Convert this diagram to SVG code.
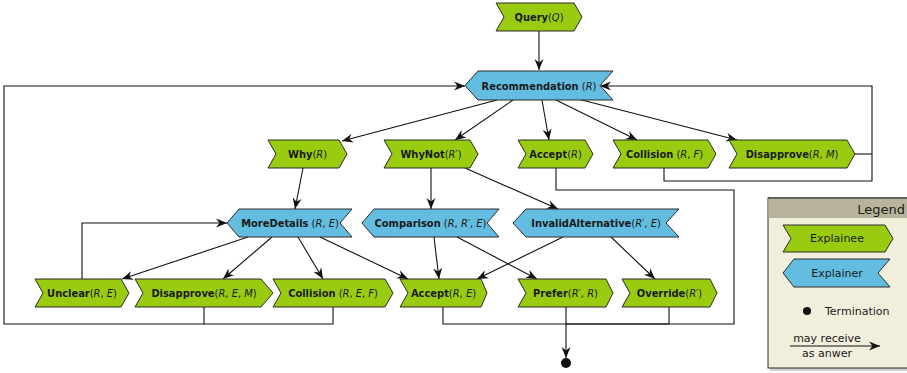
<svg xmlns="http://www.w3.org/2000/svg" width="907" height="373" viewBox="0 0 907 373">
<defs>
<marker id="ah" markerUnits="userSpaceOnUse" markerWidth="12" markerHeight="10" refX="11" refY="5" orient="auto">
<path d="M0,0.5 L11,5 L0,9.5 L3.5,5 Z" fill="#111"/>
</marker>
<style>
.ee{fill:#99cc11;stroke:#2a2a2a;stroke-width:1}
.er{fill:#62bde0;stroke:#2a2a2a;stroke-width:1}
.c{fill:none;stroke:#111;stroke-width:1.1}
.a{marker-end:url(#ah)}
text{font-family:"DejaVu Sans Condensed","DejaVu Sans",sans-serif;font-stretch:condensed;font-size:11px;fill:#1a1a1a;text-anchor:middle}
.b{font-weight:bold}
.i{font-style:italic}
.lg{font-family:"DejaVu Sans",sans-serif;font-stretch:normal}
</style>
</defs>

<g id="connectors">
<path class="c a" d="M539,31 L539,70"/>
<path class="c a" d="M497,100 L342,141"/>
<path class="c a" d="M513,100 L455,140"/>
<path class="c a" d="M542,100 L549,140"/>
<path class="c a" d="M556,100 L637,140"/>
<path class="c a" d="M578,99 L737,140"/>
<path class="c a" d="M303,168 L295,209"/>
<path class="c a" d="M431,168 L431,209"/>
<path class="c a" d="M465,168 L558,209"/>
<path class="c" d="M556,168 L556,190 L734,190 L734,324 L566,324"/>
<path class="c a" d="M664,168 L664,181 L872,181 L872,86 L600,86"/>
<path class="c" d="M855,154 L872,154"/>
<path class="c a" d="M248,237 L122,279"/>
<path class="c a" d="M272,237 L223,279"/>
<path class="c a" d="M298,237 L323,279"/>
<path class="c a" d="M320,237 L408,279"/>
<path class="c a" d="M434,237 L439,279"/>
<path class="c a" d="M457,237 L537,279"/>
<path class="c a" d="M563,237 L477,279"/>
<path class="c a" d="M611,237 L655,279"/>
<path class="c a" d="M82,279 L82,223 L227,223"/>
<path class="c a" d="M204,307 L204,324 L4,324 L4,86 L465,86"/>
<path class="c" d="M333,307 L333,324 L204,324"/>
<path class="c" d="M443,307 L443,324 L669,324"/>
<path class="c" d="M669,307 L669,324"/>
<path class="c a" d="M566,307 L566,358"/>
</g>

<g id="termination"><circle cx="566" cy="363" r="5" fill="#111"/></g>

<g id="query">
<path class="ee" d="M496,3 L574,3 L582,17 L574,31 L496,31 L504,17 Z"/>
<text x="539" y="21"><tspan class="b">Query</tspan>(<tspan class="i">Q</tspan>)</text>
</g>
<g id="recommendation">
<path class="er" d="M478,71 L613,71 L600,85.5 L613,100 L478,100 L465,85.5 Z"/>
<text x="539" y="90"><tspan class="b">Recommendation</tspan> (<tspan class="i">R</tspan>)</text>
</g>

<g id="why">
<path class="ee" d="M268,140 L339,140 L347,154 L339,168 L268,168 L276,154 Z"/>
<text x="307.5" y="158"><tspan class="b">Why</tspan>(<tspan class="i">R</tspan>)</text>
</g>
<g id="whynot">
<path class="ee" d="M384,140 L470,140 L478,154 L470,168 L384,168 L392,154 Z"/>
<text x="431" y="158"><tspan class="b">WhyNot</tspan>(<tspan class="i">R′</tspan>)</text>
</g>
<g id="accept-r">
<path class="ee" d="M518,140 L585,140 L593,154 L585,168 L518,168 L526,154 Z"/>
<text x="555.5" y="158"><tspan class="b">Accept</tspan>(<tspan class="i">R</tspan>)</text>
</g>
<g id="collision-rf">
<path class="ee" d="M613,140 L708,140 L716,154 L708,168 L613,168 L621,154 Z"/>
<text x="664.5" y="158"><tspan class="b">Collision</tspan> (<tspan class="i">R</tspan>, <tspan class="i">F</tspan>)</text>
</g>
<g id="disapprove-rm">
<path class="ee" d="M729,140 L847,140 L855,154 L847,168 L729,168 L737,154 Z"/>
<text x="792" y="158"><tspan class="b">Disapprove</tspan>(<tspan class="i">R</tspan>, <tspan class="i">M</tspan>)</text>
</g>

<g id="moredetails">
<path class="er" d="M239,209 L352,209 L340,223 L352,237 L239,237 L227,223 Z"/>
<text x="290" y="227"><tspan class="b">MoreDetails</tspan> (<tspan class="i">R</tspan>, <tspan class="i">E</tspan>)</text>
</g>
<g id="comparison">
<path class="er" d="M374,209 L499,209 L487,223 L499,237 L374,237 L362,223 Z"/>
<text x="430.5" y="227"><tspan class="b">Comparison</tspan> (<tspan class="i">R</tspan>, <tspan class="i">R′</tspan>, <tspan class="i">E</tspan>)</text>
</g>
<g id="invalidalternative">
<path class="er" d="M526,209 L679,209 L666,223 L679,237 L526,237 L513,223 Z"/>
<text x="596" y="227"><tspan class="b">InvalidAlternative</tspan>(<tspan class="i">R′</tspan>, <tspan class="i">E</tspan>)</text>
</g>

<g id="unclear">
<path class="ee" d="M35,279 L121,279 L129,293 L121,307 L35,307 L43,293 Z"/>
<text x="82" y="297"><tspan class="b">Unclear</tspan>(<tspan class="i">R</tspan>, <tspan class="i">E</tspan>)</text>
</g>
<g id="disapprove-rem">
<path class="ee" d="M135,279 L261,279 L273,293 L261,307 L135,307 L143,293 Z"/>
<text x="204" y="297"><tspan class="b">Disapprove</tspan>(<tspan class="i">R</tspan>, <tspan class="i">E</tspan>, <tspan class="i">M</tspan>)</text>
</g>
<g id="collision-ref">
<path class="ee" d="M273,279 L385,279 L393,293 L385,307 L273,307 L281,293 Z"/>
<text x="333" y="297"><tspan class="b">Collision</tspan> (<tspan class="i">R</tspan>, <tspan class="i">E</tspan>, <tspan class="i">F</tspan>)</text>
</g>
<g id="accept-re">
<path class="ee" d="M400,279 L481,279 L487,293 L481,307 L400,307 L408,293 Z"/>
<text x="443.5" y="297"><tspan class="b">Accept</tspan>(<tspan class="i">R</tspan>, <tspan class="i">E</tspan>)</text>
</g>
<g id="prefer">
<path class="ee" d="M518,279 L606,279 L613,293 L606,307 L518,307 L526,293 Z"/>
<text x="565.5" y="297"><tspan class="b">Prefer</tspan>(<tspan class="i">R′</tspan>, <tspan class="i">R</tspan>)</text>
</g>
<g id="override">
<path class="ee" d="M622,279 L710,279 L717,293 L710,307 L622,307 L630,293 Z"/>
<text x="669.5" y="297"><tspan class="b">Override</tspan>(<tspan class="i">R′</tspan>)</text>
</g>

<g id="legend">
<rect x="770" y="200" width="145" height="171" fill="#d0d0d0"/>
<rect x="768" y="198" width="145" height="170" fill="#f2eedc" stroke="#2a2a2a" stroke-width="1"/>
<rect x="768.5" y="198.5" width="144" height="19.5" fill="#b8b49c"/>
<line x1="768" y1="198" x2="907" y2="198" stroke="#2a2a2a"/>
<text class="lg" x="905" y="214" style="text-anchor:end;font-size:13px">Legend</text>
<path class="ee" d="M783,225 L885,225 L893,238.5 L885,252 L783,252 L791,238.5 Z"/>
<text class="lg" x="837" y="242">Explainee</text>
<path class="er" d="M794,259 L890,259 L878,273 L890,287 L794,287 L783,273 Z"/>
<text class="lg" x="837" y="277">Explainer</text>
<circle cx="807" cy="311" r="4" fill="#111"/>
<text class="lg" x="825" y="315" style="text-anchor:start">Termination</text>
<path class="c a" d="M790,346 L880,346"/>
<text class="lg" x="827" y="342">may receive</text>
<text class="lg" x="827" y="357">as anwer</text>
</g>
</svg>
